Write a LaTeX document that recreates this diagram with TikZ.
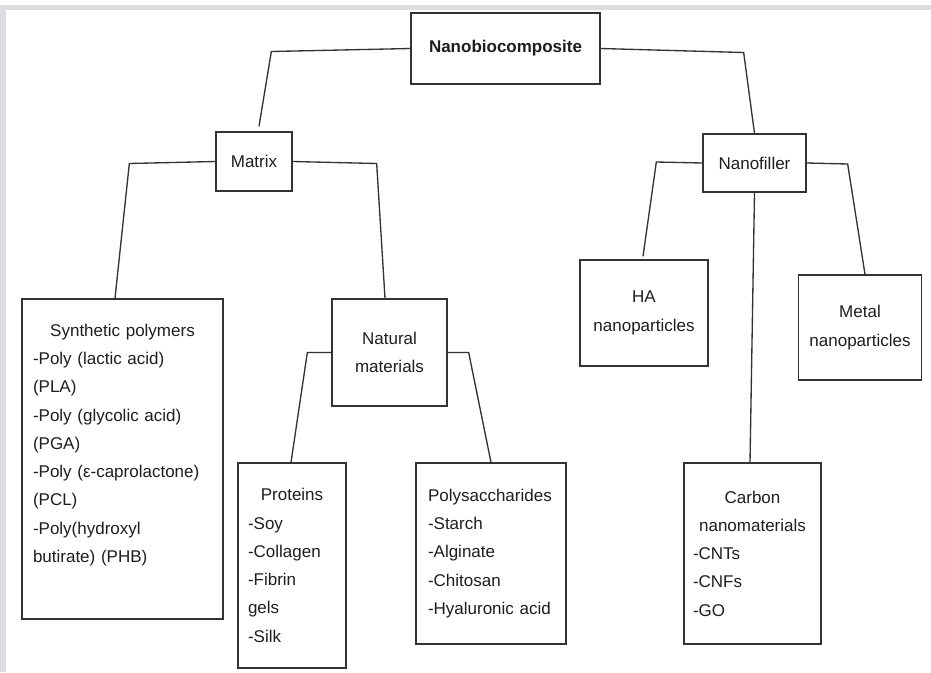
\documentclass[tikz,border=0pt]{standalone}
\usepackage{fontspec}
\setmainfont{Liberation Sans}
\usetikzlibrary{positioning,calc}

\definecolor{framegray}{HTML}{DCDDE0}
\definecolor{ink}{HTML}{333333}
\definecolor{txt}{HTML}{1E1E1E}
\newcommand\boxfont{\fontsize{12.75pt}{21.2pt}\selectfont}
\newcommand\midline[1]{\makebox[\hsize][c]{#1}}

\begin{document}
\begin{tikzpicture}[x=0.75pt,y=-0.75pt,font=\boxfont]
\tikzstyle{bx}=[draw=ink,line width=1pt,text=txt,align=center,inner sep=0pt]
\tikzstyle{lst}=[bx,align=left]
\tikzstyle{ln}=[draw=ink,line width=1pt]
% page and grey frame
\useasboundingbox (0,0) rectangle (931,672);
\fill[white] (0,0) rectangle (931,672);
\fill[framegray] (0,5) rectangle (931,10);
\fill[framegray] (0,5) rectangle (6,672);
% boxes
\node[bx,minimum width=141.75pt,minimum height=53.25pt,font=\boxfont\bfseries] (nb) at (505.5,48.5) {Nanobiocomposite};
\node[bx,minimum width=57pt,minimum height=44.25pt] (mx) at (254,161.5) {Matrix};
\node[bx,minimum width=77.25pt,minimum height=43.5pt] (nf) at (754.5,163) {Nanofiller};
\node[lst,minimum width=150.75pt,minimum height=240pt,inner xsep=8.25pt,text width=134.25pt] (syn) at (122.5,459) {\midline{Synthetic polymers}\\-Poly (lactic acid)\\(PLA)\\-Poly (glycolic acid)\\(PGA)\\-Poly (ε-caprolactone)\\(PCL)\\-Poly(hydroxyl\\butirate) (PHB)\par\vspace*{21pt}};
\node[bx,minimum width=86.25pt,minimum height=80.25pt] (nat) at (389.5,352.5) {Natural\\materials};
\node[lst,minimum width=81pt,minimum height=153.75pt,inner xsep=7.5pt,text width=66pt] (pro) at (292,565.5) {\midline{Proteins}\\-Soy\\-Collagen\\-Fibrin\\gels\\-Silk};
\node[lst,minimum width=112.5pt,minimum height=135.75pt,inner xsep=9pt,text width=94.5pt] (poly) at (491,553.5) {Polysaccharides\\-Starch\\-Alginate\\-Chitosan\\-Hyaluronic acid};
\node[bx,minimum width=96pt,minimum height=79.5pt] (ha) at (644,313) {HA\\nanoparticles};
\node[bx,minimum width=92.25pt,minimum height=78.75pt] (met) at (860,327.5) {Metal\\nanoparticles};
\node[lst,minimum width=102.75pt,minimum height=135.75pt,inner xsep=6.75pt,text width=89.25pt] (car) at (752.5,553.5) {\midline{Carbon}\\\midline{nanomaterials}\\-CNTs\\-CNFs\\-GO};
% connectors
\draw[ln] (nb.west) -- ++(-139,3) -- ([shift={(5,-5)}]mx.north);
\draw[ln] (nb.east) -- ++(143,4) -- (nf.north);
\draw[ln] (mx.west) -- ++(-86,2) -- ([shift={(-7.5,0)}]syn.north);
\draw[ln] (mx.east) -- ++(84,2) -- ([shift={(-4.5,0)}]nat.north);
\draw[ln] (nat.west) -- ++(-24,0) -- ([shift={(-1,0)}]pro.north);
\draw[ln] (nat.east) -- ++(21,0) -- (poly.north);
\draw[ln] (nf.west) -- ++(-46,-1) -- ([shift={(-1,-3)}]ha.north);
\draw[ln] (nf.east) -- ++(41,1) -- ([shift={(5,0)}]met.north);
\draw[ln] (nf.south) -- ([shift={(-2.5,0)}]car.north);
\end{tikzpicture}
\end{document}
